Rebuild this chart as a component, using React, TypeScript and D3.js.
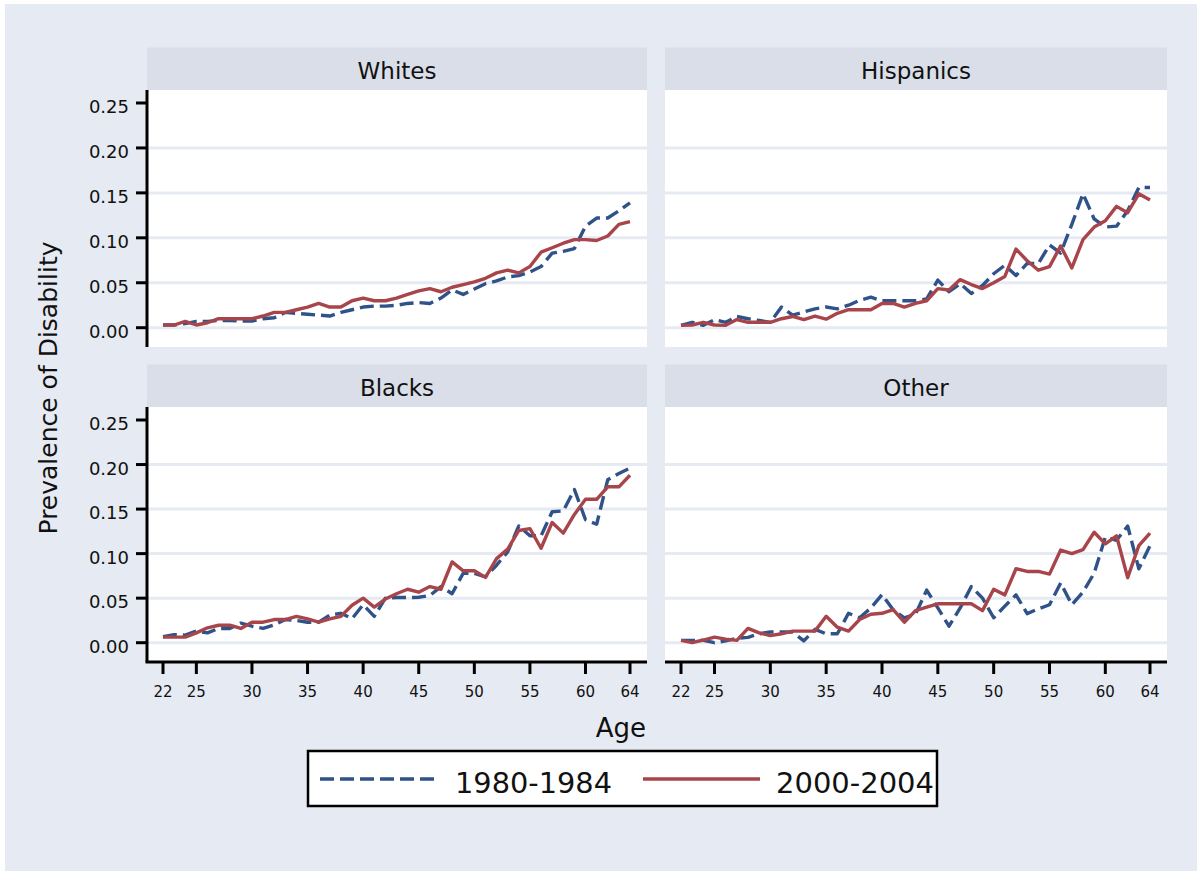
import React from "react";
import * as d3 from "d3";

const ages = [22, 23, 24, 25, 26, 27, 28, 29, 30, 31, 32, 33, 34, 35, 36, 37, 38, 39, 40, 41, 42, 43, 44, 45, 46, 47, 48, 49, 50, 51, 52, 53, 54, 55, 56, 57, 58, 59, 60, 61, 62, 63, 64];
const xTicks = [22, 25, 30, 35, 40, 45, 50, 55, 60, 64];
const yTicks = [0, 0.05, 0.1, 0.15, 0.2, 0.25];
const yTickLabels = ["0.00", "0.05", "0.10", "0.15", "0.20", "0.25"];
const panelTitles = ["Whites", "Hispanics", "Blacks", "Other"];
const seriesNames = ["1980-1984", "2000-2004"];

const whites1980 = [0.003, 0.003, 0.0045, 0.007, 0.007, 0.008, 0.008, 0.0075, 0.0075, 0.01, 0.011, 0.017, 0.016, 0.015, 0.014, 0.013, 0.017, 0.02, 0.023, 0.024, 0.024, 0.025, 0.027, 0.028, 0.027, 0.033, 0.042, 0.037, 0.043, 0.049, 0.052, 0.0565, 0.058, 0.062, 0.068, 0.083, 0.085, 0.088, 0.113, 0.122, 0.122, 0.13, 0.139];
const whites2000 = [0.003, 0.003, 0.007, 0.003, 0.0055, 0.01, 0.01, 0.01, 0.01, 0.013, 0.017, 0.017, 0.02, 0.023, 0.027, 0.023, 0.023, 0.03, 0.033, 0.03, 0.03, 0.033, 0.037, 0.041, 0.0435, 0.04, 0.045, 0.048, 0.051, 0.055, 0.061, 0.064, 0.061, 0.068, 0.084, 0.089, 0.094, 0.098, 0.098, 0.097, 0.102, 0.115, 0.118];
const hispanics1980 = [0.0026, 0.006, 0.0026, 0.009, 0.006, 0.0125, 0.01, 0.008, 0.006, 0.023, 0.014, 0.0175, 0.021, 0.023, 0.021, 0.025, 0.0305, 0.034, 0.03, 0.03, 0.03, 0.03, 0.032, 0.053, 0.04, 0.049, 0.038, 0.047, 0.06, 0.0695, 0.058, 0.0715, 0.0715, 0.092, 0.083, 0.115, 0.149, 0.121, 0.112, 0.113, 0.13, 0.156, 0.156];
const hispanics2000 = [0.0026, 0.003, 0.006, 0.003, 0.0026, 0.009, 0.006, 0.006, 0.006, 0.01, 0.0125, 0.009, 0.013, 0.0095, 0.016, 0.02, 0.02, 0.02, 0.027, 0.027, 0.023, 0.027, 0.03, 0.0435, 0.042, 0.0535, 0.048, 0.0435, 0.05, 0.057, 0.0875, 0.0745, 0.064, 0.068, 0.091, 0.0665, 0.098, 0.112, 0.119, 0.135, 0.128, 0.149, 0.142];
const blacks1980 = [0.0067, 0.009, 0.0085, 0.013, 0.011, 0.016, 0.016, 0.022, 0.0185, 0.016, 0.02, 0.026, 0.025, 0.023, 0.023, 0.031, 0.033, 0.027, 0.0426, 0.0296, 0.05, 0.0507, 0.0507, 0.051, 0.053, 0.063, 0.055, 0.078, 0.078, 0.074, 0.087, 0.102, 0.131, 0.12, 0.12, 0.147, 0.148, 0.172, 0.138, 0.133, 0.183, 0.19, 0.196];
const blacks2000 = [0.0063, 0.0063, 0.0063, 0.011, 0.0167, 0.0196, 0.0196, 0.016, 0.023, 0.023, 0.026, 0.026, 0.0296, 0.0267, 0.023, 0.0267, 0.0296, 0.042, 0.05, 0.04, 0.049, 0.055, 0.06, 0.0567, 0.063, 0.06, 0.0907, 0.0807, 0.0807, 0.0733, 0.0944, 0.105, 0.126, 0.128, 0.106, 0.135, 0.123, 0.144, 0.161, 0.161, 0.175, 0.175, 0.188];
const other1980 = [0.0026, 0.0026, 0.0026, 0.0, 0.002, 0.005, 0.006, 0.01, 0.012, 0.012, 0.012, 0.002, 0.015, 0.01, 0.01, 0.033, 0.028, 0.039, 0.054, 0.037, 0.028, 0.032, 0.059, 0.039, 0.0185, 0.039, 0.063, 0.05, 0.028, 0.041, 0.0537, 0.0326, 0.038, 0.0426, 0.067, 0.0426, 0.057, 0.078, 0.1185, 0.115, 0.131, 0.083, 0.109];
const other2000 = [0.0026, 0.0, 0.003, 0.0063, 0.004, 0.0026, 0.016, 0.011, 0.008, 0.01, 0.013, 0.013, 0.013, 0.0296, 0.0174, 0.013, 0.026, 0.032, 0.033, 0.037, 0.023, 0.036, 0.04, 0.0437, 0.0437, 0.0437, 0.0437, 0.036, 0.06, 0.0537, 0.083, 0.08, 0.08, 0.077, 0.104, 0.1, 0.1045, 0.124, 0.111, 0.12, 0.073, 0.109, 0.123];

const seriesByPanel = [
  [whites1980, whites2000],
  [hispanics1980, hispanics2000],
  [blacks1980, blacks2000],
  [other1980, other2000],
];

const BG = "#e6eaf2";
const HEADER = "#d9dee8";
const GRID = "#e6eaf2";
const BLUE = "#2f5388";
const RED = "#a8454b";
const FONT = "'DejaVu Sans', Verdana, sans-serif";
const DASH = "14 6";

export default function App() {
  const W = 1204;
  const H = 875;
  const cols = [
    { x0: 147, x1: 647 },
    { x0: 665, x1: 1167 },
  ];
  const rows = [
    { h0: 47.5, y0: 90, y1: 347 },
    { h0: 364.5, y0: 407, y1: 662 },
  ];

  const panels = panelTitles.map((title, i) => {
    const c = cols[i % 2];
    const r = rows[Math.floor(i / 2)];
    const x = d3.scaleLinear().domain([22, 64]).range([c.x0 + 16, c.x1 - 17]);
    const y = d3.scaleLinear().domain([0, 0.25]).range([r.y1 - 19.3, r.y0 + 13]);
    const line = d3
      .line<number>()
      .x((_, j) => x(ages[j]))
      .y((v) => y(v));
    const isLeft = i % 2 === 0;
    const isBottom = i >= 2;
    return (
      <g key={title}>
        <rect x={c.x0} y={r.h0} width={c.x1 - c.x0} height={r.y0 - r.h0} fill={HEADER} />
        <text
          x={(c.x0 + c.x1) / 2}
          y={r.h0 + 31}
          textAnchor="middle"
          fontFamily={FONT}
          fontSize={23}
          fill="#111"
        >
          {title}
        </text>
        <rect x={c.x0} y={r.y0} width={c.x1 - c.x0} height={r.y1 - r.y0} fill="#ffffff" />
        {yTicks
          .filter((t) => t < 0.25)
          .map((t) => (
            <line key={t} x1={c.x0} x2={c.x1} y1={y(t)} y2={y(t)} stroke={GRID} strokeWidth={3} />
          ))}
        <path
          d={line(seriesByPanel[i][0]) || ""}
          fill="none"
          stroke={BLUE}
          strokeWidth={3.4}
          strokeDasharray={DASH}
          strokeLinejoin="round"
        />
        <path
          d={line(seriesByPanel[i][1]) || ""}
          fill="none"
          stroke={RED}
          strokeWidth={3.4}
          strokeLinejoin="round"
        />
        {isLeft && (
          <g>
            <line x1={c.x0} x2={c.x0} y1={r.y0} y2={r.y1} stroke="#000" strokeWidth={3} />
            {yTicks.map((t, k) => (
              <g key={t}>
                <line x1={c.x0 - 11} x2={c.x0} y1={y(t)} y2={y(t)} stroke="#000" strokeWidth={3} />
                <text
                  x={c.x0 - 18}
                  y={y(t) + 10}
                  textAnchor="end"
                  fontFamily={FONT}
                  fontSize={18}
                  fill="#111"
                >
                  {yTickLabels[k]}
                </text>
              </g>
            ))}
          </g>
        )}
        {isBottom && (
          <g>
            <line x1={c.x0 - (isLeft ? 1.5 : 0)} x2={c.x1} y1={r.y1} y2={r.y1} stroke="#000" strokeWidth={3} />
            {xTicks.map((t) => (
              <g key={t}>
                <line x1={x(t)} x2={x(t)} y1={r.y1} y2={r.y1 + 12} stroke="#000" strokeWidth={3} />
                <text
                  x={x(t)}
                  y={r.y1 + 35}
                  textAnchor="middle"
                  fontFamily={FONT}
                  fontSize={15}
                  fill="#111"
                >
                  {t}
                </text>
              </g>
            ))}
          </g>
        )}
      </g>
    );
  });

  return (
    <svg
      width={W}
      height={H}
      style={{ position: "absolute", left: 0, top: 0, display: "block" }}
    >
      <rect x={0} y={0} width={W} height={H} fill="#ffffff" />
      <rect x={5} y={4} width={1192} height={867} fill={BG} />
      {panels}
      <text
        transform={`translate(57,388) rotate(-90)`}
        textAnchor="middle"
        fontFamily={FONT}
        fontSize={25}
        fill="#111"
      >
        Prevalence of Disability
      </text>
      <text x={646} y={737} textAnchor="end" fontFamily={FONT} fontSize={26} fill="#111">
        Age
      </text>
      <g>
        <rect x={308} y={751} width={629} height={55} fill="#ffffff" stroke="#000" strokeWidth={2.5} />
        <line x1={320} x2={437} y1={779} y2={779} stroke={BLUE} strokeWidth={3.4} strokeDasharray={DASH} />
        <text
          x={455}
          y={793}
          fontFamily={FONT}
          fontSize={29}
          textLength={157}
          lengthAdjust="spacingAndGlyphs"
          fill="#111"
        >
          {seriesNames[0]}
        </text>
        <line x1={643} x2={760} y1={779} y2={779} stroke={RED} strokeWidth={3.4} />
        <text
          x={776}
          y={793}
          fontFamily={FONT}
          fontSize={29}
          textLength={158}
          lengthAdjust="spacingAndGlyphs"
          fill="#111"
        >
          {seriesNames[1]}
        </text>
      </g>
    </svg>
  );
}
